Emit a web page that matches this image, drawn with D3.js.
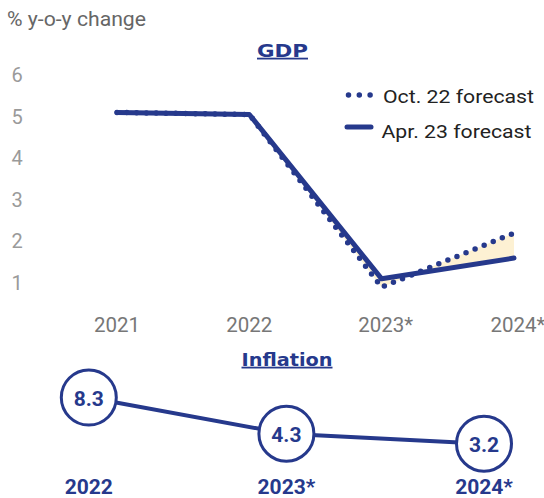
<!DOCTYPE html>
<html><head><meta charset="utf-8">
<script src="https://cdn.jsdelivr.net/npm/d3@7"></script>
<style>body{margin:0;background:#fff}svg{display:block;font-family:Roboto,sans-serif}</style>
</head><body>
<svg id="c" width="544" height="498"></svg>
<script>
const gdpYears = ["2021","2022","2023*","2024*"];
const oct22 = [5.1, 5.05, 0.9, 2.2];
const apr23 = [5.1, 5.05, 1.1, 1.6];
const yTicks = [1,2,3,4,5,6];
const infYears = ["2022","2023*","2024*"];
const inflation = [8.3, 4.3, 3.2];

const navy = "#26398c";
const svg = d3.select("#c");
const titleFont = "'DejaVu Sans', sans-serif";

const x = d3.scalePoint().domain(gdpYears).range([117, 514]);
const y = d3.scaleLinear().domain([1, 6]).range([283, 75]);

svg.append("text").attr("x", 7).attr("y", 26).attr("font-size", 19.5)
  .attr("textLength", 139).attr("lengthAdjust", "spacingAndGlyphs")
  .attr("fill", "#666").text("% y-o-y change");

// y tick labels
svg.append("g").selectAll("text").data(yTicks).join("text")
  .attr("x", 17).attr("y", d => y(d) + 7).attr("text-anchor", "middle")
  .attr("font-size", 20).attr("fill", "#9a9a9a").text(d => d);

// x labels
svg.append("g").selectAll("text").data(gdpYears).join("text")
  .attr("x", d => x(d) + (d.endsWith("*") ? 4 : 0)).attr("y", 332).attr("text-anchor", "middle")
  .attr("font-size", 20.5).attr("fill", "#777").text(d => d);

// title
svg.append("text").attr("x", 282.5).attr("y", 56.7).attr("text-anchor", "middle")
  .attr("font-family", titleFont).attr("font-size", 18).attr("font-weight", "bold").attr("fill", navy)
  .attr("textLength", 51).attr("lengthAdjust", "spacingAndGlyphs")
  .attr("text-decoration", "underline").text("GDP");

// fill between forecasts
const idx = d3.range(1, gdpYears.length);
const area = d3.area().x(i => x(gdpYears[i])).y0(i => y(oct22[i])).y1(i => y(apr23[i]));
svg.append("path").attr("d", area(idx)).attr("fill", "#fdf1d3");

const line = d3.line().x((d, i) => x(gdpYears[i])).y(d => y(d));
svg.append("path").attr("d", line(oct22)).attr("fill", "none").attr("stroke", navy)
  .attr("stroke-width", 5.5).attr("stroke-linecap", "round").attr("stroke-dasharray", "0 9.8");
svg.append("path").attr("d", line(apr23)).attr("fill", "none").attr("stroke", navy)
  .attr("stroke-width", 5).attr("stroke-linecap", "round").attr("stroke-linejoin", "round");

// legend
svg.append("line").attr("x1", 348.5).attr("x2", 371).attr("y1", 95).attr("y2", 95)
  .attr("stroke", navy).attr("stroke-width", 5.5).attr("stroke-linecap", "round").attr("stroke-dasharray", "0 10.8");
svg.append("text").attr("x", 383).attr("y", 103.3).attr("font-size", 19)
  .attr("textLength", 151).attr("lengthAdjust", "spacingAndGlyphs")
  .attr("fill", "#222").text("Oct. 22 forecast");
svg.append("line").attr("x1", 347).attr("x2", 371).attr("y1", 127).attr("y2", 127)
  .attr("stroke", navy).attr("stroke-width", 5).attr("stroke-linecap", "round");
svg.append("text").attr("x", 381.5).attr("y", 138.3).attr("font-size", 19)
  .attr("textLength", 150).attr("lengthAdjust", "spacingAndGlyphs")
  .attr("fill", "#222").text("Apr. 23 forecast");

// Inflation
svg.append("text").attr("x", 287).attr("y", 365.7).attr("text-anchor", "middle")
  .attr("font-family", titleFont).attr("font-size", 18).attr("font-weight", "bold").attr("fill", navy)
  .attr("textLength", 91).attr("lengthAdjust", "spacingAndGlyphs")
  .attr("text-decoration", "underline").text("Inflation");

const xi = d3.scalePoint().domain(infYears).range([88.8, 484]);
const yi = d3.scaleLinear().domain([3.2, 8.3]).range([443.7, 397.5]);
const r = 27.5;
const infLine = d3.line().x((d, i) => xi(infYears[i])).y(d => yi(d));
svg.append("path").attr("d", infLine(inflation)).attr("fill", "none").attr("stroke", navy).attr("stroke-width", 4);
const g = svg.append("g").selectAll("g").data(inflation).join("g")
  .attr("transform", (d, i) => `translate(${xi(infYears[i])},${yi(d)})`);
g.append("circle").attr("r", r).attr("fill", "#fff").attr("stroke", navy).attr("stroke-width", 3);
g.append("text").attr("text-anchor", "middle").attr("y", 8.5).attr("font-size", 21)
  .attr("font-weight", "bold").attr("fill", navy).text(d => d.toFixed(1));
svg.append("g").selectAll("text").data(infYears).join("text")
  .attr("x", d => xi(d)).attr("y", 494).attr("text-anchor", "middle")
  .attr("font-size", 21).attr("font-weight", "bold").attr("fill", navy).text(d => d);
</script>
</body></html>
